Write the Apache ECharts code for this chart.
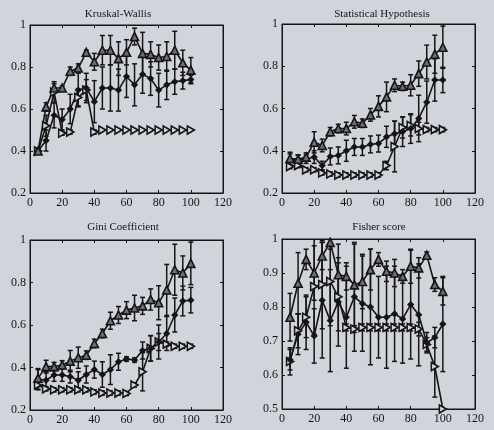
<!DOCTYPE html>
<html>
<head>
<meta charset="utf-8">
<script src="https://cdn.jsdelivr.net/npm/echarts@6/dist/echarts.min.js"></script>
<style>
html,body{margin:0;padding:0;background:#d2d4db;}
#c{width:494px;height:430px;}
</style>
</head>
<body>
<div id="c"></div>
<script>
// ---- data ----
const xs = [5,10,15,20,25,30,35,40,45,50,55,60,65,70,75,80,85,90,95,100];
const xTicks = [0,20,40,60,80,100,120];
const titles = ['Kruskal-Wallis','Statistical Hypothesis','Gini Coefficient','Fisher score'];

// Kruskal-Wallis
const kwTri      = [0.40,0.61,0.70,0.70,0.78,0.795,0.87,0.825,0.88,0.88,0.84,0.87,0.945,0.865,0.86,0.845,0.85,0.88,0.82,0.785];
const kwTriErr   = [0.01,0.02,0.02,0.01,0.02,0.02,0.01,0.04,0.07,0.07,0.08,0.06,0.04,0.10,0.06,0.06,0.07,0.09,0.06,0.06];
const kwStar     = [0.40,0.45,0.57,0.55,0.60,0.69,0.70,0.635,0.70,0.70,0.69,0.755,0.715,0.765,0.745,0.69,0.715,0.73,0.735,0.74];
const kwStarErr  = [0.01,0.05,0.06,0.05,0.07,0.08,0.07,0.10,0.10,0.11,0.10,0.10,0.10,0.09,0.08,0.08,0.07,0.06,0.04,0.02];
const kwRight    = [0.40,0.52,0.68,0.485,0.49,0.655,0.69,0.49,0.50,0.50,0.50,0.50,0.50,0.50,0.50,0.50,0.50,0.50,0.50,0.50];
const kwRightErr = [0.01,0.05,0.05,0.01,0.01,0.04,0.05,0.01,0,0,0,0,0,0,0,0,0,0,0,0];

// Statistical Hypothesis
const shTri      = [0.363,0.36,0.37,0.44,0.425,0.49,0.505,0.505,0.537,0.53,0.57,0.61,0.655,0.71,0.705,0.71,0.765,0.82,0.857,0.89];
const shTriErr   = [0.03,0.02,0.02,0.05,0.03,0.02,0.02,0.03,0.03,0.02,0.03,0.05,0.07,0.03,0.02,0.05,0.06,0.08,0.09,0.10];
const shStar     = [0.355,0.36,0.36,0.37,0.33,0.373,0.378,0.40,0.418,0.418,0.43,0.434,0.466,0.48,0.49,0.505,0.553,0.63,0.735,0.735];
const shStarErr  = [0.03,0.02,0.02,0.03,0.02,0.04,0.04,0.05,0.04,0.04,0.04,0.04,0.05,0.06,0.07,0.07,0.11,0.10,0.10,0.06];
const shRight    = [0.325,0.33,0.31,0.31,0.295,0.29,0.285,0.285,0.285,0.285,0.285,0.285,0.33,0.42,0.51,0.52,0.505,0.50,0.50,0.50];
const shRightErr = [0.01,0.01,0.01,0.01,0.01,0.01,0.01,0.01,0.01,0.01,0.01,0.01,0.02,0.12,0.05,0.05,0.03,0.01,0.01,0.01];

// Gini Coefficient
const giTri      = [0.35,0.404,0.404,0.412,0.43,0.446,0.458,0.513,0.56,0.62,0.647,0.67,0.68,0.69,0.72,0.705,0.765,0.86,0.845,0.89];
const giTriErr   = [0.04,0.03,0.02,0.02,0.05,0.05,0.02,0.02,0.02,0.04,0.04,0.04,0.06,0.04,0.05,0.08,0.12,0.12,0.08,0.10];
const giStar     = [0.345,0.34,0.365,0.365,0.357,0.34,0.367,0.39,0.367,0.39,0.427,0.44,0.435,0.48,0.49,0.52,0.56,0.647,0.713,0.717];
const giStarErr  = [0.05,0.04,0.03,0.03,0.03,0.04,0.04,0.04,0.06,0.07,0.04,0.01,0.01,0.04,0.06,0.08,0.08,0.08,0.07,0.06];
const giRight    = [0.317,0.30,0.295,0.295,0.295,0.295,0.295,0.285,0.28,0.28,0.28,0.278,0.318,0.38,0.49,0.52,0.51,0.50,0.50,0.50];
const giRightErr = [0.02,0.01,0.01,0.01,0.01,0.01,0.01,0.01,0.01,0.01,0.01,0.01,0.01,0.09,0.06,0.04,0.01,0.01,0.01,0.01];

// Fisher score
const fsTri      = [0.77,0.87,0.94,0.90,0.95,0.99,0.895,0.89,0.865,0.875,0.91,0.94,0.905,0.90,0.89,0.92,0.915,0.952,0.866,0.846];
const fsTriErr   = [0.07,0.09,0.03,0.08,0.04,0.02,0.09,0.04,0.12,0.08,0.06,0.02,0.03,0.04,0.02,0.05,0.03,0.01,0.02,0.04];
const fsStar     = [0.645,0.72,0.755,0.715,0.82,0.76,0.815,0.77,0.83,0.81,0.80,0.77,0.77,0.78,0.765,0.807,0.777,0.695,0.71,0.75];
const fsStarErr  = [0.03,0.06,0.08,0.08,0.17,0.15,0.13,0.15,0.16,0.14,0.17,0.12,0.15,0.14,0.13,0.16,0.15,0.03,0.03,0.14];
const fsRight    = [0.64,0.73,0.77,0.86,0.866,0.875,0.83,0.74,0.735,0.74,0.74,0.74,0.74,0.74,0.74,0.74,0.735,0.69,0.625,0.50];
const fsRightErr = [0.04,0.05,0.06,0.14,0.13,0.13,0.10,0.01,0.01,0.01,0.01,0.01,0.01,0.01,0.01,0.01,0.02,0.02,0.09,0.0];

const panels = [
  {tri:kwTri,triE:kwTriErr,star:kwStar,starE:kwStarErr,right:kwRight,rightE:kwRightErr,ymin:0.2,ymax:1,yint:0.2},
  {tri:shTri,triE:shTriErr,star:shStar,starE:shStarErr,right:shRight,rightE:shRightErr,ymin:0.2,ymax:1,yint:0.2},
  {tri:giTri,triE:giTriErr,star:giStar,starE:giStarErr,right:giRight,rightE:giRightErr,ymin:0.2,ymax:1,yint:0.2},
  {tri:fsTri,triE:fsTriErr,star:fsStar,starE:fsStarErr,right:fsRight,rightE:fsRightErr,ymin:0.5,ymax:1,yint:0.1}
];

// ---- layout ----
const grids = [
  {left:30, top:25, width:193, height:168},
  {left:282,top:24, width:193, height:169},
  {left:30, top:240,width:193, height:170},
  {left:282,top:239,width:193, height:170}
];
const titlePos = [[118,9],[382,9],[123,222],[379,222]];
const FONT = 'Liberation Serif';
const INK = '#151515';
const BG = '#d2d4db';

const option = {
  backgroundColor: BG,
  animation: false,
  title: titles.map((t,i)=>({
    text: t, left: titlePos[i][0], top: titlePos[i][1], textAlign:'center', padding:0,
    textStyle:{fontFamily:FONT,fontSize:11,fontWeight:'normal',color:INK}
  })),
  grid: grids.map(g=>Object.assign({show:true,borderColor:INK,borderWidth:1,backgroundColor:'transparent'},g)),
  xAxis: [], yAxis: [], series: []
};

const tickStyle = {show:true,inside:true,length:3,lineStyle:{color:INK,width:1}};
panels.forEach((p,i)=>{
  option.xAxis.push({type:'value',gridIndex:i,position:'bottom',min:0,max:120,interval:20,
    axisLine:{show:true,onZero:false,lineStyle:{color:INK}},axisTick:tickStyle,splitLine:{show:false},
    axisLabel:{fontFamily:FONT,fontSize:12,color:INK,margin:4}});
  option.xAxis.push({type:'value',gridIndex:i,position:'top',min:0,max:120,interval:20,
    axisLine:{show:true,onZero:false,lineStyle:{color:INK}},axisTick:tickStyle,splitLine:{show:false},
    axisLabel:{show:false}});
  option.yAxis.push({type:'value',gridIndex:i,position:'left',min:p.ymin,max:p.ymax,interval:p.yint,
    axisLine:{show:true,onZero:false,lineStyle:{color:INK}},axisTick:tickStyle,splitLine:{show:false},
    axisLabel:{fontFamily:FONT,fontSize:12,color:INK,margin:4,formatter:v=>String(+v.toFixed(2))}});
  option.yAxis.push({type:'value',gridIndex:i,position:'right',min:p.ymin,max:p.ymax,interval:p.yint,
    axisLine:{show:true,onZero:false,lineStyle:{color:INK}},axisTick:tickStyle,splitLine:{show:false},
    axisLabel:{show:false}});

  const xi = 2*i, yi = 2*i;
  const mk = (vals,errs,name,symbol,size,fill)=>{
    option.series.push({
      type:'custom', xAxisIndex:xi, yAxisIndex:yi, clip:true, z:2,
      data: xs.map((x,k)=>[x, vals[k]-errs[k], vals[k]+errs[k]]),
      renderItem:(params,api)=>{
        const x=api.value(0), lo=api.value(1), hi=api.value(2);
        const a=api.coord([x,lo]), b=api.coord([x,hi]);
        const w=2.5;
        const st={stroke:INK,lineWidth:1.5};
        return {type:'group',children:[
          {type:'line',shape:{x1:a[0],y1:a[1],x2:b[0],y2:b[1]},style:st},
          {type:'line',shape:{x1:a[0]-w,y1:a[1],x2:a[0]+w,y2:a[1]},style:st},
          {type:'line',shape:{x1:b[0]-w,y1:b[1],x2:b[0]+w,y2:b[1]},style:st}
        ]};
      }
    });
    option.series.push({
      type:'line', name, xAxisIndex:xi, yAxisIndex:yi, z:3,
      data: xs.map((x,k)=>[x,vals[k]]),
      symbol, symbolSize:size, showAllSymbol:true,
      lineStyle:{color:INK,width:1.6},
      itemStyle:{color:fill,borderColor:INK,borderWidth:1.6}
    });
  };
  mk(p.right,p.rightE,'C','path://M0,0 L10,5 L0,10 Z',[7,8],BG);
  mk(p.star,p.starE,'B','diamond',5,INK);
  mk(p.tri,p.triE,'A','triangle',8,'#6c6e74');
});

const chart = echarts.init(document.getElementById('c'),null,{renderer:'canvas'});
chart.setOption(option);
</script>
</body>
</html>
